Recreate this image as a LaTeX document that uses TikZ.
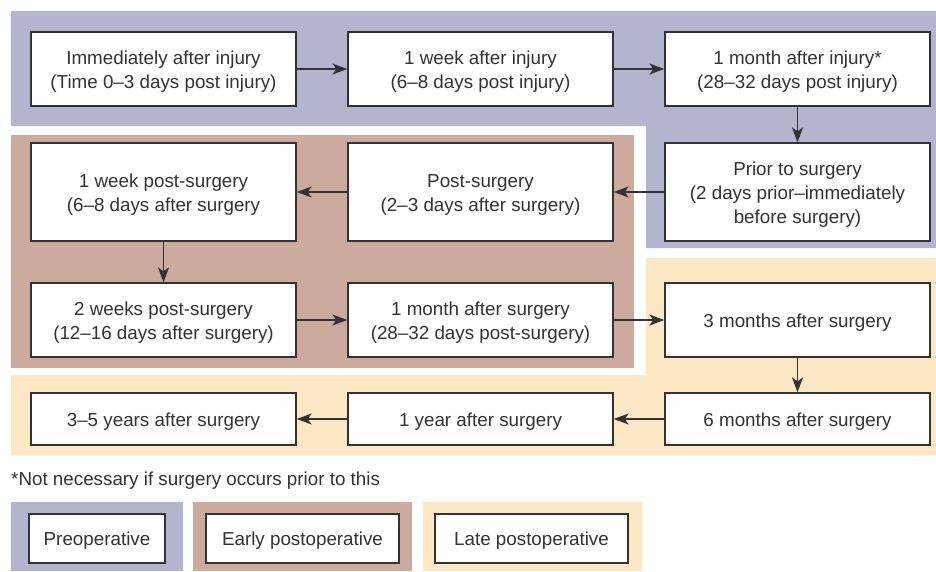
\documentclass[tikz,border=0pt]{standalone}
\usepackage{fontspec}
\setmainfont{Liberation Sans}
\usetikzlibrary{arrows.meta}
\definecolor{preop}{HTML}{B3B5CE}
\definecolor{earlypost}{HTML}{CCAA9E}
\definecolor{latepost}{HTML}{FDE8C6}
\definecolor{ink}{HTML}{333333}
\newcommand{\uprule}{\rule{0pt}{18.5pt}}
\begin{document}
\begin{tikzpicture}[x=1pt,y=-1pt,
		stage/.style={draw=ink, line width=1.3pt, fill=white, text=ink, align=center,
			minimum width=265pt, inner sep=0pt, font=\fontsize{18.8}{24}\selectfont},
		keybox/.style={stage, minimum height=49pt},
		flow/.style={draw=ink, line width=1.5pt, -{Stealth[length=15pt,width=11pt,inset=4pt]}}]
		\useasboundingbox (0,0) rectangle (936,571);
		
		% the three phases
		\fill [preop] (11,11) -- (936,11) -- (936,248) -- (646,248) -- (646,126) -- (11,126) -- cycle;
		\fill [earlypost] (11,135) rectangle (634,368);
		\fill [latepost] (646,258) -- (936,258) -- (936,455) -- (11,455) -- (11,375) -- (646,375) -- cycle;
		
		\node [stage, minimum height=74pt] (injury) at (163.5,69) {\uprule Immediately after injury\\(Time 0–3 days post injury)};
		\node [stage, minimum height=74pt] (week) at (480.5,69) {\uprule 1 week after injury\\(6–8 days post injury)};
		\node [stage, minimum height=74pt] (month) at (797.5,69) {\uprule 1 month after injury*\\(28–32 days post injury)};
		\node [stage, minimum height=98pt] (prior) at (797.5,192) {\uprule Prior to surgery\\(2 days prior–immediately\\before surgery)};
		\node [stage, minimum height=98pt] (postop) at (480.5,192) {\uprule Post-surgery\\(2–3 days after surgery)};
		\node [stage, minimum height=98pt] (weekpost) at (163.5,192) {\uprule 1 week post-surgery\\(6–8 days after surgery};
		\node [stage, minimum height=74pt] (twoweeks) at (163.5,320) {\uprule 2 weeks post-surgery\\(12–16 days after surgery)};
		\node [stage, minimum height=74pt] (monthpost) at (480.5,320) {\uprule 1 month after surgery\\(28–32 days post-surgery)};
		\node [stage, minimum height=74pt] (threemonths) at (797.5,320) {\uprule 3 months after surgery};
		\node [stage, minimum height=52pt] (sixmonths) at (797.5,419) {\uprule 6 months after surgery};
		\node [stage, minimum height=52pt] (year) at (480.5,419) {\uprule 1 year after surgery};
		\node [stage, minimum height=52pt] (years) at (163.5,419) {\uprule 3–5 years after surgery};
		
		\draw [flow] (injury) -- (week);
		\draw [flow] (week) -- (month);
		\draw [flow] (month) -- (prior);
		\draw [flow] (prior) -- (postop);
		\draw [flow] (postop) -- (weekpost);
		\draw [flow] (weekpost) -- (twoweeks);
		\draw [flow] (twoweeks) -- (monthpost);
		\draw [flow] (monthpost) -- (threemonths);
		\draw [flow] (threemonths) -- (sixmonths);
		\draw [flow] (sixmonths) -- (year);
		\draw [flow] (year) -- (years);
		
		\node [anchor=base west, inner sep=0pt, text=ink, font=\fontsize{18.8}{24}\selectfont] (note) at (11,485) {*Not necessary if surgery occurs prior to this};
		
		% legend
		\fill [preop] (11,502) rectangle (183,571);
		\fill [earlypost] (193,502) rectangle (412,571);
		\fill [latepost] (423,502) rectangle (642,571);
		\node [keybox, minimum width=136pt] (keypre) at (97,538.5) {\uprule Preoperative};
		\node [keybox, minimum width=193pt] (keyearly) at (302.5,538.5) {\uprule Early postoperative};
		\node [keybox, minimum width=193pt] (keylate) at (531.5,538.5) {\uprule Late postoperative};
	\end{tikzpicture}
\end{document}
